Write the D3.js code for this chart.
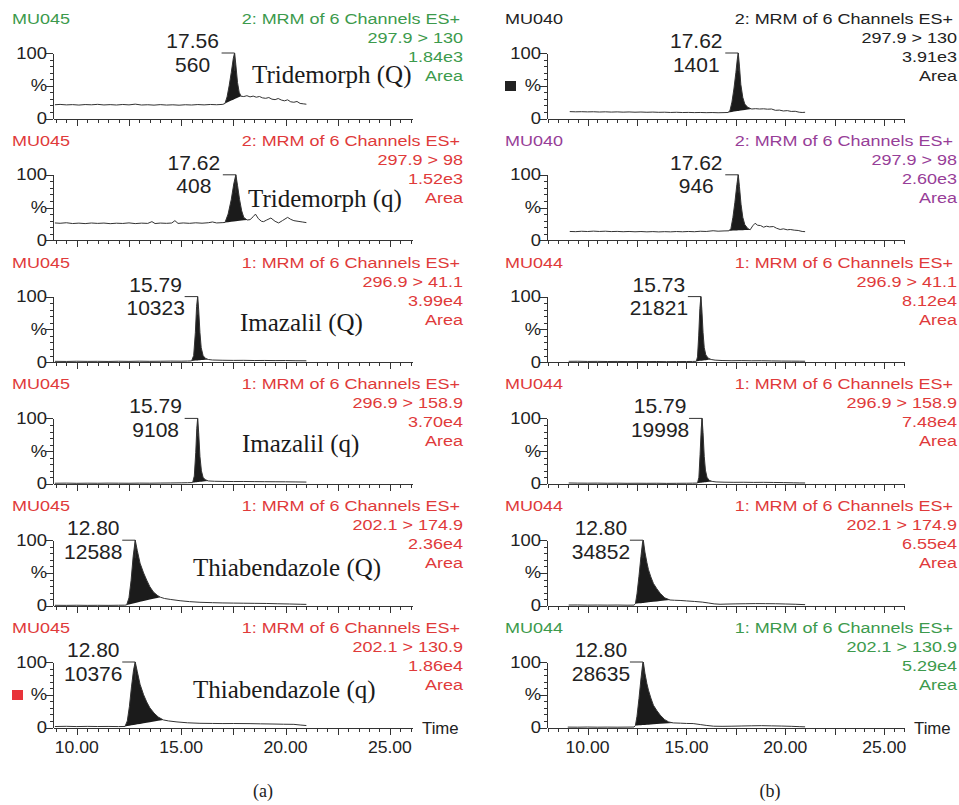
<!DOCTYPE html>
<html><head><meta charset="utf-8">
<script src="https://cdn.jsdelivr.net/npm/d3@7"></script>
<style>body{margin:0;background:#fff}svg{display:block}</style>
</head><body>
<svg id="chart" width="959" height="805"></svg>
<script>
// ---------------- DATA ----------------
const compoundNames = ["Tridemorph (Q)","Tridemorph (q)","Imazalil (Q)","Imazalil (q)","Thiabendazole (Q)","Thiabendazole (q)"];
const sampleIdsA = ["MU045","MU045","MU045","MU045","MU045","MU045"];
const sampleIdsB = ["MU040","MU040","MU044","MU044","MU044","MU044"];
const channelTitlesA = ["2: MRM of 6 Channels ES+","2: MRM of 6 Channels ES+","1: MRM of 6 Channels ES+","1: MRM of 6 Channels ES+","1: MRM of 6 Channels ES+","1: MRM of 6 Channels ES+"];
const channelTitlesB = ["2: MRM of 6 Channels ES+","2: MRM of 6 Channels ES+","1: MRM of 6 Channels ES+","1: MRM of 6 Channels ES+","1: MRM of 6 Channels ES+","1: MRM of 6 Channels ES+"];
const transitionsA = ["297.9 > 130","297.9 > 98","296.9 > 41.1","296.9 > 158.9","202.1 > 174.9","202.1 > 130.9"];
const transitionsB = ["297.9 > 130","297.9 > 98","296.9 > 41.1","296.9 > 158.9","202.1 > 174.9","202.1 > 130.9"];
const areaValuesA = ["1.84e3","1.52e3","3.99e4","3.70e4","2.36e4","1.86e4"];
const areaValuesB = ["3.91e3","2.60e3","8.12e4","7.48e4","6.55e4","5.29e4"];
const peakRTA = [17.56,17.62,15.79,15.79,12.80,12.80];
const peakRTB = [17.62,17.62,15.73,15.79,12.80,12.80];
const peakHeightA = [560,408,10323,9108,12588,10376];
const peakHeightB = [1401,946,21821,19998,34852,28635];
const fillRangesA = [[17.0,17.87],[17.1,18.16],[15.5,16.3],[15.55,16.3],[12.39,14.0],[12.31,14.15]];
const fillRangesB = [[17.1,18.3],[17.15,18.22],[15.5,16.25],[15.56,16.3],[12.42,14.17],[12.42,14.33]];
const xTickValues = [10,15,20,25];
const xTickLabels = ["10.00","15.00","20.00","25.00"];
const yTickValues = [100,50,0];
const yTickLabels = ["100","%","0"];
const axisTitle = "Time";
const panelTags = ["(a)","(b)"];

// chromatogram traces: [retention time (min), relative intensity (%)]
const traceA1 = [[8.95,21],[9.2,21.5],[9.5,20.8],[9.8,21.2],[10.1,20.5],[10.4,21.3],[10.7,20.9],[11.0,21.6],[11.3,20.7],[11.6,21.2],[11.9,20.6],[12.2,21.4],[12.5,20.8],[12.8,21.9],[13.1,20.6],[13.4,21.0],[13.7,20.4],[14.0,21.2],[14.3,20.5],[14.6,20.9],[14.9,20.3],[15.2,21.0],[15.5,20.6],[15.8,21.3],[16.1,20.8],[16.4,21.4],[16.7,21.0],[17.0,21.6],[17.1,23],[17.2,33],[17.3,50],[17.4,70],[17.5,92],[17.56,100],[17.62,82],[17.7,55],[17.78,40],[17.87,34],[18.0,33.5],[18.15,34.8],[18.3,33],[18.45,34.2],[18.6,32.5],[18.75,33.6],[18.9,31.5],[19.05,30.8],[19.2,32],[19.35,29.5],[19.5,28.8],[19.65,30.5],[19.8,28.2],[19.95,27],[20.1,28.5],[20.25,25.5],[20.4,24.8],[20.55,26],[20.7,23],[20.85,22.4],[21.0,21.8]];
const traceA2 = [[8.95,26.5],[9.2,26],[9.5,26.8],[9.8,25.6],[10.1,26.2],[10.4,25.5],[10.7,26.4],[11.0,25.8],[11.3,26.3],[11.6,25.4],[11.9,26.1],[12.2,25.7],[12.5,26.6],[12.8,25.5],[13.1,26.2],[13.4,25.8],[13.6,28.5],[13.75,25.6],[14.0,26.3],[14.3,25.9],[14.55,26.4],[14.7,30],[14.85,25.8],[15.1,26.5],[15.4,25.9],[15.7,26.7],[16.0,26.1],[16.3,26.8],[16.5,28],[16.7,26.5],[17.0,27],[17.1,27.2],[17.25,40],[17.4,62],[17.52,86],[17.62,100],[17.7,84],[17.8,62],[17.9,45],[18.0,35],[18.16,31],[18.3,31.5],[18.45,36],[18.56,40],[18.7,33],[18.85,29],[18.95,28.5],[19.1,31],[19.3,34],[19.5,29],[19.67,26.5],[19.85,30],[20.1,35],[20.25,32],[20.4,30],[20.6,29],[20.8,28],[21.0,27]];
const traceA3 = [[8.95,1.2],[9.5,1.0],[10.0,1.3],[10.5,1.1],[11.0,1.2],[11.5,1.0],[12.0,1.3],[12.5,1.1],[13.0,1.4],[13.5,1.2],[14.0,1.3],[14.5,1.5],[15.0,1.4],[15.3,1.6],[15.5,1.8],[15.6,10],[15.68,45],[15.74,85],[15.79,100],[15.84,80],[15.9,45],[15.96,22],[16.05,10],[16.15,6],[16.3,4],[16.5,3.2],[17.0,2.8],[17.5,2.6],[18.0,2.7],[18.5,2.4],[19.0,2.5],[19.5,2.3],[20.0,2.4],[20.5,2.1],[21.0,2.0]];
const traceA4 = [[8.95,1.0],[9.5,1.2],[10.0,0.9],[10.5,1.1],[11.0,1.0],[11.5,1.2],[12.0,1.1],[12.5,1.0],[13.0,1.2],[13.5,1.1],[14.0,1.3],[14.5,1.4],[15.0,1.6],[15.3,1.8],[15.55,2],[15.63,12],[15.7,48],[15.75,85],[15.79,100],[15.84,78],[15.9,42],[15.97,20],[16.05,10],[16.15,6.5],[16.3,4.5],[16.6,4],[17.0,3.8],[17.5,3.6],[18.0,3.7],[18.5,3.5],[19.0,3.4],[19.5,3.3],[20.0,3.2],[20.5,3.0],[21.0,2.8]];
const traceA5 = [[8.95,0.6],[9.5,0.5],[10.0,0.7],[10.5,0.5],[11.0,0.6],[11.5,0.5],[12.0,0.7],[12.3,0.8],[12.39,1.2],[12.5,12],[12.6,38],[12.7,75],[12.8,100],[12.9,84],[13.03,65],[13.2,50],[13.35,39],[13.5,29],[13.67,21],[13.85,16],[14.0,13],[14.2,11],[14.5,9.5],[14.95,7.6],[15.4,6.2],[15.9,5.2],[16.5,4.6],[17.0,4.2],[17.5,4.0],[18.0,3.8],[18.5,3.6],[19.1,3.4],[19.6,3.0],[20.2,2.6],[20.7,2.2],[21.0,2.0]];
const traceA6 = [[8.95,1.5],[9.5,1.8],[10.0,1.4],[10.5,1.7],[11.0,1.5],[11.5,1.6],[12.0,1.4],[12.31,1.6],[12.42,10],[12.52,32],[12.62,62],[12.72,88],[12.8,100],[12.9,85],[13.03,66],[13.2,50],[13.35,39],[13.5,30],[13.7,22],[13.9,16],[14.15,11.5],[14.4,10],[14.8,8.5],[15.3,7.2],[15.9,6.4],[16.5,6.2],[17.0,6.0],[17.5,6.1],[18.3,5.9],[18.8,5.6],[19.4,5.3],[19.9,5.0],[20.4,4.8],[20.7,3.8],[21.0,3.0]];
const traceB1 = [[9.1,10.5],[9.4,10.2],[9.7,10.4],[10.0,10.1],[10.3,10.3],[10.6,9.9],[10.9,10.2],[11.2,9.8],[11.5,10.1],[11.8,9.7],[12.1,10.0],[12.4,9.6],[12.7,9.9],[13.0,9.5],[13.3,9.8],[13.6,9.4],[13.9,9.6],[14.2,9.2],[14.5,9.5],[14.8,9.1],[15.1,9.3],[15.4,9.0],[15.7,9.2],[16.0,8.9],[16.3,9.1],[16.6,8.8],[16.9,9.0],[17.1,9.2],[17.2,12],[17.3,25],[17.4,45],[17.5,70],[17.57,90],[17.62,100],[17.68,80],[17.75,52],[17.85,32],[17.95,22],[18.1,17],[18.3,14.5],[18.5,15],[18.7,14.5],[18.9,14.8],[19.1,14.2],[19.3,14.5],[19.5,12.5],[19.7,12.8],[19.9,11.5],[20.1,12],[20.3,10.8],[20.5,11],[20.7,9.6],[20.85,9.2],[21.0,9.5]];
const traceB2 = [[9.1,13.5],[9.4,13.2],[9.7,13.8],[10.0,13.4],[10.3,14.0],[10.6,13.5],[10.9,13.9],[11.2,13.3],[11.5,13.6],[11.8,13.1],[12.1,13.5],[12.4,13.0],[12.7,13.4],[13.0,12.9],[13.3,13.3],[13.6,12.8],[13.9,13.2],[14.2,12.9],[14.5,13.4],[14.8,13.0],[15.1,13.5],[15.4,13.1],[15.7,13.8],[16.0,13.5],[16.35,14.6],[16.6,13.9],[16.9,14.3],[17.15,14.5],[17.25,18],[17.35,35],[17.45,58],[17.55,85],[17.62,100],[17.68,82],[17.76,55],[17.85,35],[17.95,24],[18.1,18],[18.22,16],[18.35,22],[18.47,26],[18.6,23],[18.75,22.5],[18.9,20],[19.05,21.5],[19.2,20.5],[19.4,21],[19.55,18.5],[19.74,16.5],[19.9,17.5],[20.1,16],[20.25,16.5],[20.45,15.5],[20.65,15],[20.85,13.5],[21.0,13.2]];
const traceB3 = [[9.05,1.2],[9.5,1.3],[10.0,1.0],[10.5,1.1],[11.0,0.9],[11.5,1.0],[12.0,0.8],[12.5,0.9],[13.0,0.8],[13.5,0.9],[14.0,0.7],[14.5,0.8],[15.0,0.9],[15.3,1.0],[15.5,1.2],[15.56,8],[15.62,40],[15.68,82],[15.73,100],[15.78,80],[15.84,45],[15.9,22],[15.98,11],[16.1,6],[16.25,4],[16.45,3],[16.8,2.4],[17.3,2.1],[17.8,2.3],[18.3,2.0],[18.8,2.1],[19.3,1.8],[19.8,1.6],[20.3,1.5],[20.7,1.4],[21.0,1.3]];
const traceB4 = [[9.05,1.4],[9.5,1.2],[10.0,1.1],[10.5,1.2],[11.0,1.0],[11.5,1.1],[12.0,0.9],[12.5,1.0],[13.0,0.9],[13.5,1.0],[14.0,0.8],[14.5,0.9],[15.0,1.0],[15.3,1.1],[15.56,1.3],[15.63,10],[15.69,45],[15.75,85],[15.79,100],[15.84,78],[15.9,42],[15.96,21],[16.04,10],[16.15,5.5],[16.3,3.8],[16.5,3],[16.9,2.6],[17.4,2.4],[17.9,2.5],[18.4,2.3],[18.9,2.4],[19.4,2.2],[19.9,2.0],[20.4,1.7],[20.7,1.5],[21.0,1.4]];
const traceB5 = [[9.05,1.0],[9.5,1.1],[10.0,0.9],[10.5,1.0],[11.0,0.9],[11.5,1.0],[12.0,0.8],[12.35,0.9],[12.42,3],[12.5,18],[12.6,45],[12.7,75],[12.78,96],[12.82,100],[12.9,82],[13.0,66],[13.08,55],[13.2,44],[13.33,34],[13.5,26],[13.67,19],[13.9,12],[14.17,8.7],[14.4,8.3],[14.68,8],[15.0,7.3],[15.4,6.5],[15.8,5.5],[16.1,4.2],[16.4,2.8],[16.7,2.2],[17.0,2.5],[17.5,2.8],[18.0,3.0],[18.5,3.2],[19.0,3.1],[19.5,3.0],[20.0,2.6],[20.5,2.2],[21.0,1.6]];
const traceB6 = [[9.0,0.6],[9.5,0.5],[10.0,0.7],[10.5,0.5],[11.0,0.6],[11.5,0.5],[12.0,0.6],[12.35,0.7],[12.42,3],[12.5,17],[12.6,44],[12.7,74],[12.78,95],[12.82,100],[12.9,83],[13.0,67],[13.08,57],[13.2,45],[13.33,34],[13.5,26],[13.67,19],[13.9,12],[14.1,8.5],[14.33,7],[14.7,6.6],[15.0,6.2],[15.34,6],[15.7,4.5],[16.0,3.2],[16.37,2],[16.8,1.8],[17.3,2.0],[17.8,2.3],[18.3,2.6],[18.8,2.8],[19.3,2.5],[19.8,2.2],[20.3,1.8],[20.7,1.3],[21.0,1.0]];

// ---------------- STYLE / LAYOUT ----------------
const GREEN = "#3c9a4c", RED = "#e03a3a", PURPLE = "#973e98", DARK = "#222";
const headerColorsA = [GREEN, RED, RED, RED, RED, RED];
const headerColorsB = [DARK, PURPLE, RED, RED, RED, GREEN];
const SANS = "'Liberation Sans', Arial, sans-serif";
const SERIF = "'Liberation Serif', 'Times New Roman', serif";
const rowPitch = 121.8;
const nameLayout = [[252,83],[248,85],[240,87],[242,87],[193,89],[193,89]];

const panels = [
  {x0:53, x1:412, domain:[8.86,26.06], idX:12, titleRight:460, infoRight:463, tagX:263,
   ids:sampleIdsA, titles:channelTitlesA, trans:transitionsA, areas:areaValuesA, rts:peakRTA, hts:peakHeightA,
   fills:fillRangesA, colors:headerColorsA, traces:[traceA1,traceA2,traceA3,traceA4,traceA5,traceA6], names:true,
   square:{row:5, color:"#e8333a", x:12}},
  {x0:547, x1:904, domain:[7.95,26.0], idX:505, titleRight:953, infoRight:957, tagX:770,
   ids:sampleIdsB, titles:channelTitlesB, trans:transitionsB, areas:areaValuesB, rts:peakRTB, hts:peakHeightB,
   fills:fillRangesB, colors:headerColorsB, traces:[traceB1,traceB2,traceB3,traceB4,traceB5,traceB6], names:false,
   square:{row:0, color:"#222", x:505}}
];

const svg = d3.select("#chart");

function txt(g, x, y, s, o) {
  return g.append("text")
    .attr("transform", `translate(${x},${y}) scale(${o.sx || 1},1)`)
    .attr("text-anchor", o.anchor || "start")
    .style("font-family", o.family || SANS)
    .style("font-size", (o.size || 15) + "px")
    .attr("fill", o.fill || DARK)
    .text(s);
}

function interp(trace, t) {
  for (let i = 1; i < trace.length; i++) {
    if (trace[i][0] >= t) {
      const a = trace[i-1], b = trace[i];
      const f = (t - a[0]) / (b[0] - a[0]);
      return a[1] + f * (b[1] - a[1]);
    }
  }
  return trace[trace.length-1][1];
}

panels.forEach((p, pi) => {
  const x = d3.scaleLinear().domain(p.domain).range([p.x0, p.x1]);
  const minorX = d3.range(Math.ceil(p.domain[0]*2)/2, p.domain[1]+0.001, 0.5);
  const majorX = d3.range(Math.ceil(p.domain[0]/2.5)*2.5, p.domain[1]+0.001, 2.5);

  for (let r = 0; r < 6; r++) {
    const oy = r * rowPitch;
    const g = svg.append("g");
    const y = d3.scaleLinear().domain([0,100]).range([oy+118.5, oy+53]);
    const col = p.colors[r];

    // header texts
    txt(g, p.idX, oy+24, p.ids[r], {size:15, sx:1.2, fill:col});
    txt(g, p.titleRight, oy+24, p.titles[r], {size:15, sx:1.2, fill:col, anchor:"end"});
    txt(g, p.infoRight, oy+43, p.trans[r], {size:15, sx:1.2, fill:col, anchor:"end"});
    txt(g, p.infoRight, oy+62, p.areas[r], {size:15, sx:1.2, fill:col, anchor:"end"});
    txt(g, p.infoRight, oy+81, "Area", {size:15, sx:1.2, fill:col, anchor:"end"});

    // x axis (minor + major ticks)
    g.append("g").attr("transform", `translate(0,${y(0)})`)
      .call(d3.axisBottom(x).tickValues(minorX).tickSize(4).tickSizeOuter(0).tickFormat(""));
    g.append("g").attr("transform", `translate(0,${y(0)})`)
      .call(d3.axisBottom(x).tickValues(majorX).tickSize(7).tickSizeOuter(0).tickFormat(""))
      .call(a => a.select(".domain").remove());
    // y axis
    g.append("g").attr("transform", `translate(${p.x0},0)`)
      .call(d3.axisLeft(y).tickValues(d3.range(0,101,10)).tickSize(3).tickSizeOuter(0).tickFormat(""));
    g.append("g").attr("transform", `translate(${p.x0},0)`)
      .call(d3.axisLeft(y).tickValues(yTickValues).tickSize(7).tickSizeOuter(0).tickFormat(""))
      .call(a => a.select(".domain").remove());
    g.selectAll(".domain, .tick line").attr("stroke", "#333").attr("stroke-width", 1).style("shape-rendering","crispEdges");

    yTickValues.forEach((v, i) => txt(g, p.x0-6, y(v)+5.5, yTickLabels[i], {size:16, sx:1.15, anchor:"end"}));

    // peak integration fill
    const tr = p.traces[r];
    const [fs, fe] = p.fills[r];
    const ys = interp(tr, fs), ye = interp(tr, fe);
    const seg = [[fs, ys]].concat(tr.filter(d => d[0] > fs && d[0] < fe), [[fe, ye]]);
    const base = t => ys + (t - fs) / (fe - fs) * (ye - ys);
    g.append("path").datum(seg)
      .attr("d", d3.area().x(d => x(d[0])).y0(d => y(base(d[0]))).y1(d => y(d[1])))
      .attr("fill", "#1b1b1b");
    // trace
    g.append("path").datum(tr)
      .attr("d", d3.line().x(d => x(d[0])).y(d => y(d[1])))
      .attr("fill", "none").attr("stroke", "#333").attr("stroke-width", 1);

    // peak annotation
    const ax = x(p.rts[r]);
    g.append("path")
      .attr("d", `M${ax-13},${y(100)}H${ax}V${y(100)+18}`)
      .attr("fill","none").attr("stroke","#333").attr("stroke-width",1);
    txt(g, ax-42, oy+48, p.rts[r].toFixed(2), {size:20, sx:1.05, anchor:"middle"});
    txt(g, ax-42, oy+71.5, String(p.hts[r]), {size:20, sx:1.05, anchor:"middle"});

    if (p.names) {
      txt(g, nameLayout[r][0], oy+nameLayout[r][1], compoundNames[r], {size:25, family:SERIF, fill:"#1a1a1a"});
    }

    if (p.square.row === r) {
      g.append("rect").attr("x", p.square.x).attr("y", oy+81).attr("width", 11).attr("height", 10)
        .attr("fill", p.square.color);
    }

    if (r === 5) {
      xTickValues.forEach((v, i) => txt(g, x(v), y(0)+25.5, xTickLabels[i], {size:16, sx:1.1, anchor:"middle"}));
      txt(g, p.x1+10, y(0)+6.5, axisTitle, {size:16, sx:1.05});
    }
  }
  txt(svg, p.tagX, 797, panelTags[pi], {size:18, family:SERIF, anchor:"middle"});
});
</script>
</body></html>
